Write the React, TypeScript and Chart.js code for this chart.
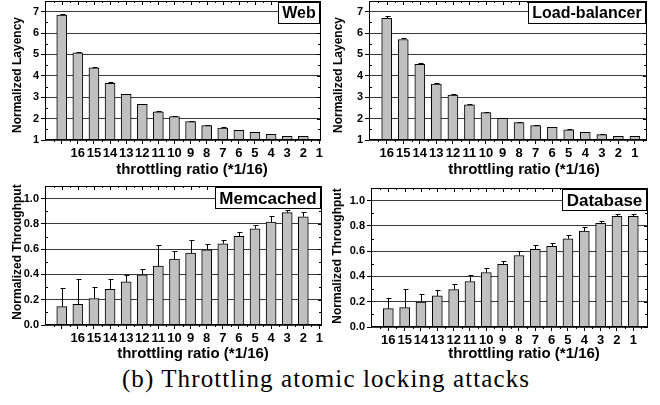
import { useEffect, useRef } from "react";
import { Chart, registerables } from "chart.js";

Chart.register(...registerables);

// Throttling ratios (in units of 1/16), strongest throttling first
const ratioLabels = ["16", "15", "14", "13", "12", "11", "10", "9", "8", "7", "6", "5", "4", "3", "2", "1"];
// The Web and Memcached panels print the ratio labels one slot to the right of their bars
const shiftedRatioLabels = ["", ...ratioLabels];

const latencyTicks = [1, 2, 3, 4, 5, 6, 7];
const throughputTicks = [0, 0.2, 0.4, 0.6, 0.8, 1.0];

// Normalized latency (bar) and upper error (delta)
const webLatency = [6.84, 5.08, 4.38, 3.65, 3.13, 2.67, 2.32, 2.09, 1.86, 1.67, 1.56, 1.45, 1.36, 1.26, 1.17, 1.17];
const webLatencyErr = [0.03, 0.04, 0.04, 0.04, 0.03, 0.03, 0.03, 0.03, 0.04, 0.02, 0.03, 0.02, 0.02, 0.02, 0.02, 0.02];

const lbLatency = [6.69, 5.7, 4.54, 3.62, 3.1, 2.64, 2.28, 2.01, 1.81, 1.67, 1.59, 1.47, 1.36, 1.25, 1.17, 1.17];
const lbLatencyErr = [0.09, 0.07, 0.04, 0.04, 0.04, 0.03, 0.03, 0.04, 0.02, 0.02, 0.03, 0.03, 0.02, 0.02, 0.01, 0.01];

// Normalized throughput (bar) and upper error (delta)
const memThroughput = [0.145, 0.164, 0.21, 0.283, 0.341, 0.397, 0.466, 0.521, 0.569, 0.595, 0.643, 0.701, 0.762, 0.815, 0.889, 0.857];
const memThroughputErr = [0.151, 0.201, 0.094, 0.079, 0.056, 0.045, 0.164, 0.061, 0.1, 0.043, 0.032, 0.032, 0.026, 0.045, 0.018, 0.04];

const dbThroughput = [0.146, 0.153, 0.198, 0.246, 0.296, 0.36, 0.431, 0.495, 0.566, 0.614, 0.638, 0.698, 0.759, 0.82, 0.876, 0.876];
const dbThroughputErr = [0.08, 0.147, 0.067, 0.049, 0.043, 0.053, 0.032, 0.031, 0.037, 0.031, 0.023, 0.027, 0.029, 0.016, 0.018, 0.018];

const SANS = "'Liberation Sans', Arial, Helvetica, sans-serif";

type PanelConfig = {
  name: string;
  values: number[];
  errors: number[];
  tickLabels: string[];
  yTicks: number[];
  yMin: number;
  yMax: number;
  yDecimals: number;
  yTitle: string;
  xMin: number;
  xMax: number;
  left: number;
  top: number;
  width: number;
  height: number;
  yAxisWidth: number;
  padRight: number;
  padTop: number;
  xAxisHeight: number;
  yTitlePos: [number, number];
  xTitleCenter: number;
  xTitleBaseline: number;
  boxFont: number;
};

const xTitle = "throttling ratio (*1/16)";

const panels: PanelConfig[] = [
  {
    name: "Web", values: webLatency, errors: webLatencyErr, tickLabels: shiftedRatioLabels,
    yTicks: latencyTicks, yMin: 1, yMax: 7.5, yDecimals: 0, yTitle: "Normalized Layency",
    xMin: -1.04, xMax: 16.1,
    left: 0, top: 0, width: 330, height: 180,
    yAxisWidth: 45, padRight: 9, padTop: 1, xAxisHeight: 40,
    yTitlePos: [18, 75], xTitleCenter: 192, xTitleBaseline: 174, boxFont: 16,
  },
  {
    name: "Load-balancer", values: lbLatency, errors: lbLatencyErr, tickLabels: ratioLabels,
    yTicks: latencyTicks, yMin: 1, yMax: 7.5, yDecimals: 0, yTitle: "Normalized Layency",
    xMin: -1.07, xMax: 15.73,
    left: 330, top: 0, width: 330, height: 180,
    yAxisWidth: 39, padRight: 13, padTop: 1, xAxisHeight: 40,
    yTitlePos: [8.5, 75], xTitleCenter: 194, xTitleBaseline: 174, boxFont: 16,
  },
  {
    name: "Memcached", values: memThroughput, errors: memThroughputErr, tickLabels: shiftedRatioLabels,
    yTicks: throughputTicks, yMin: 0, yMax: 1.1, yDecimals: 1, yTitle: "Normalized Throughput",
    xMin: -1.04, xMax: 16.16,
    left: 0, top: 180, width: 330, height: 185,
    yAxisWidth: 45, padRight: 8, padTop: 6, xAxisHeight: 40,
    yTitlePos: [17.5, 72], xTitleCenter: 193, xTitleBaseline: 178, boxFont: 17,
  },
  {
    name: "Database", values: dbThroughput, errors: dbThroughputErr, tickLabels: ratioLabels,
    yTicks: throughputTicks, yMin: 0, yMax: 1.1, yDecimals: 1, yTitle: "Normalized Throughput",
    xMin: -1.06, xMax: 15.9,
    left: 330, top: 180, width: 330, height: 185,
    yAxisWidth: 41, padRight: 12, padTop: 8, xAxisHeight: 38,
    yTitlePos: [8, 76], xTitleCenter: 194, xTitleBaseline: 178, boxFont: 17,
  },
];

// Frame, inward minor ticks, error bars, axis titles and the panel name box
const panelDecor = {
  id: "panelDecor",
  afterDatasetsDraw(chart: any, _args: any, opts: any) {
    const { ctx } = chart;
    const xs = chart.scales.x;
    const ys = chart.scales.y;
    ctx.save();
    ctx.strokeStyle = "#000";
    ctx.lineWidth = 1;
    opts.values.forEach((v: number, i: number) => {
      const px = Math.round(xs.getPixelForValue(i)) + 0.5;
      const y0 = ys.getPixelForValue(v);
      const y1 = Math.round(ys.getPixelForValue(v + opts.errors[i])) + 0.5;
      ctx.beginPath();
      ctx.moveTo(px, y0);
      ctx.lineTo(px, y1);
      ctx.moveTo(px - 2, y1);
      ctx.lineTo(px + 3, y1);
      ctx.stroke();
    });
    ctx.restore();
  },
  afterDraw(chart: any, _args: any, opts: any) {
    const { ctx, chartArea } = chart;
    const { left, right, top, bottom } = chartArea;
    const xs = chart.scales.x;
    const ys = chart.scales.y;
    ctx.save();
    ctx.strokeStyle = "#000";
    ctx.lineWidth = 1;
    // frame
    ctx.strokeRect(left + 0.5, top + 0.5, right - left - 1, bottom - top - 1);

    ctx.beginPath();
    // x ticks: top edge inward, bottom minor outward
    const n = opts.tickCount as number;
    for (let i = 0; i < n; i++) {
      const px = Math.round(xs.getPixelForValue(i)) + 0.5;
      ctx.moveTo(px, top);
      ctx.lineTo(px, top + 4);
      const hx = Math.round(xs.getPixelForValue(i + 0.5)) + 0.5;
      if (hx < right - 1) {
        ctx.moveTo(hx, top);
        ctx.lineTo(hx, top + 2);
        ctx.moveTo(hx, bottom);
        ctx.lineTo(hx, bottom + 2);
      }
      const hx2 = Math.round(xs.getPixelForValue(i - 0.5)) + 0.5;
      if (i === 0 && hx2 > left + 1) {
        ctx.moveTo(hx2, top);
        ctx.lineTo(hx2, top + 2);
        ctx.moveTo(hx2, bottom);
        ctx.lineTo(hx2, bottom + 2);
      }
    }
    // y ticks: right edge inward majors, minors on both sides
    const yt: number[] = opts.yTicks;
    const step = yt[1] - yt[0];
    yt.forEach((v: number) => {
      const py = Math.round(ys.getPixelForValue(v)) + 0.5;
      ctx.moveTo(right, py);
      ctx.lineTo(right - 4, py);
      const mv = v + step / 2;
      if (mv < opts.yMax - 1e-9) {
        const my = Math.round(ys.getPixelForValue(mv)) + 0.5;
        ctx.moveTo(left, my);
        ctx.lineTo(left + 3, my);
        ctx.moveTo(right, my);
        ctx.lineTo(right - 3, my);
      }
    });
    ctx.stroke();

    // axis titles
    ctx.fillStyle = "#000";
    ctx.font = `bold 15px ${SANS}`;
    ctx.textAlign = "center";
    ctx.textBaseline = "alphabetic";
    ctx.fillText(opts.xTitle, opts.xTitleCenter, opts.xTitleBaseline);

    ctx.save();
    ctx.translate(opts.yTitlePos[0], opts.yTitlePos[1]);
    ctx.rotate(-Math.PI / 2);
    ctx.font = `bold 12px ${SANS}`;
    ctx.textBaseline = "middle";
    ctx.fillText(opts.yTitle, 0, 0);
    ctx.restore();

    // panel name box in the top-right corner
    ctx.font = `bold ${opts.boxFont}px ${SANS}`;
    const tw = ctx.measureText(opts.name).width;
    const bw = Math.round(tw + 9);
    const bh = 22;
    const bx = Math.round(right - bw) - 1;
    const by = Math.round(top) + 1;
    ctx.fillStyle = "#fff";
    ctx.fillRect(bx, by, bw, bh);
    ctx.strokeRect(bx + 0.5, by + 0.5, bw - 1, bh - 1);
    ctx.fillStyle = "#000";
    ctx.textAlign = "center";
    ctx.textBaseline = "middle";
    ctx.fillText(opts.name, bx + bw / 2, by + bh / 2 + 1);
    ctx.restore();
  },
};

function Panel({ cfg }: { cfg: PanelConfig }) {
  const ref = useRef<HTMLCanvasElement | null>(null);

  useEffect(() => {
    if (!ref.current) return;
    const chart = new Chart(ref.current, {
      type: "bar",
      data: {
        datasets: [
          {
            data: cfg.values.map((y, i) => ({ x: i, y })),
            backgroundColor: "#c0c0c0",
            borderColor: "#000",
            borderWidth: 1,
            barThickness: 10,
          },
        ],
      },
      options: {
        responsive: false,
        animation: false,
        devicePixelRatio: 1,
        layout: { padding: { left: 0, right: cfg.padRight, top: cfg.padTop, bottom: 0 } },
        plugins: {
          legend: { display: false },
          tooltip: { enabled: false },
          panelDecor: {
            name: cfg.name,
            values: cfg.values,
            errors: cfg.errors,
            tickCount: cfg.tickLabels.length,
            yTicks: cfg.yTicks,
            yMax: cfg.yMax,
            xTitle,
            xTitleCenter: cfg.xTitleCenter,
            xTitleBaseline: cfg.xTitleBaseline,
            yTitle: cfg.yTitle,
            yTitlePos: cfg.yTitlePos,
            boxFont: cfg.boxFont,
          },
        } as any,
        scales: {
          x: {
            type: "linear",
            min: cfg.xMin,
            max: cfg.xMax,
            offset: false,
            border: { display: false },
            grid: {
              display: true,
              drawOnChartArea: false,
              drawTicks: true,
              tickLength: 4,
              tickColor: "#000",
              offset: false,
            },
            ticks: {
              autoSkip: false,
              maxRotation: 0,
              padding: 2,
              color: "#000",
              font: { family: SANS, size: 13, weight: "bold" },
              callback: (_v: any, i: number) => cfg.tickLabels[i] ?? "",
            },
            afterBuildTicks: (s: any) => {
              s.ticks = cfg.tickLabels.map((_, i) => ({ value: i }));
            },
            afterFit: (s: any) => {
              s.height = cfg.xAxisHeight;
              s.paddingLeft = 0;
              s.paddingRight = 0;
            },
          },
          y: {
            min: cfg.yMin,
            max: cfg.yMax,
            border: { display: false },
            grid: {
              color: "#3a3a3a",
              lineWidth: 1,
              drawTicks: true,
              tickLength: 4,
              tickColor: "#000",
            },
            ticks: {
              padding: 2,
              color: "#000",
              font: { family: SANS, size: 11, weight: "bold" },
              callback: (v: any) => Number(v).toFixed(cfg.yDecimals),
            },
            afterBuildTicks: (s: any) => {
              s.ticks = cfg.yTicks.map((v) => ({ value: v }));
            },
            afterFit: (s: any) => {
              s.width = cfg.yAxisWidth;
              s.paddingTop = 0;
              s.paddingBottom = 0;
            },
          },
        },
      } as any,
      plugins: [panelDecor],
    });
    return () => chart.destroy();
  }, [cfg]);

  return (
    <canvas
      ref={ref}
      width={cfg.width}
      height={cfg.height}
      style={{ position: "absolute", left: cfg.left, top: cfg.top, width: cfg.width, height: cfg.height }}
    />
  );
}

export default function App() {
  return (
    <div style={{ position: "absolute", left: 0, top: 0, width: 660, height: 405, background: "#fff", overflow: "hidden" }}>
      {panels.map((p) => (
        <Panel key={p.name} cfg={p} />
      ))}
      <div
        style={{
          position: "absolute",
          left: 0,
          top: 366,
          width: 652,
          textAlign: "center",
          fontFamily: "'Liberation Serif', 'Times New Roman', serif",
          fontSize: 25,
          lineHeight: "25px",
          letterSpacing: "1.1px",
          whiteSpace: "nowrap",
          color: "#000",
        }}
      >
        (b) Throttling atomic locking attacks
      </div>
    </div>
  );
}
